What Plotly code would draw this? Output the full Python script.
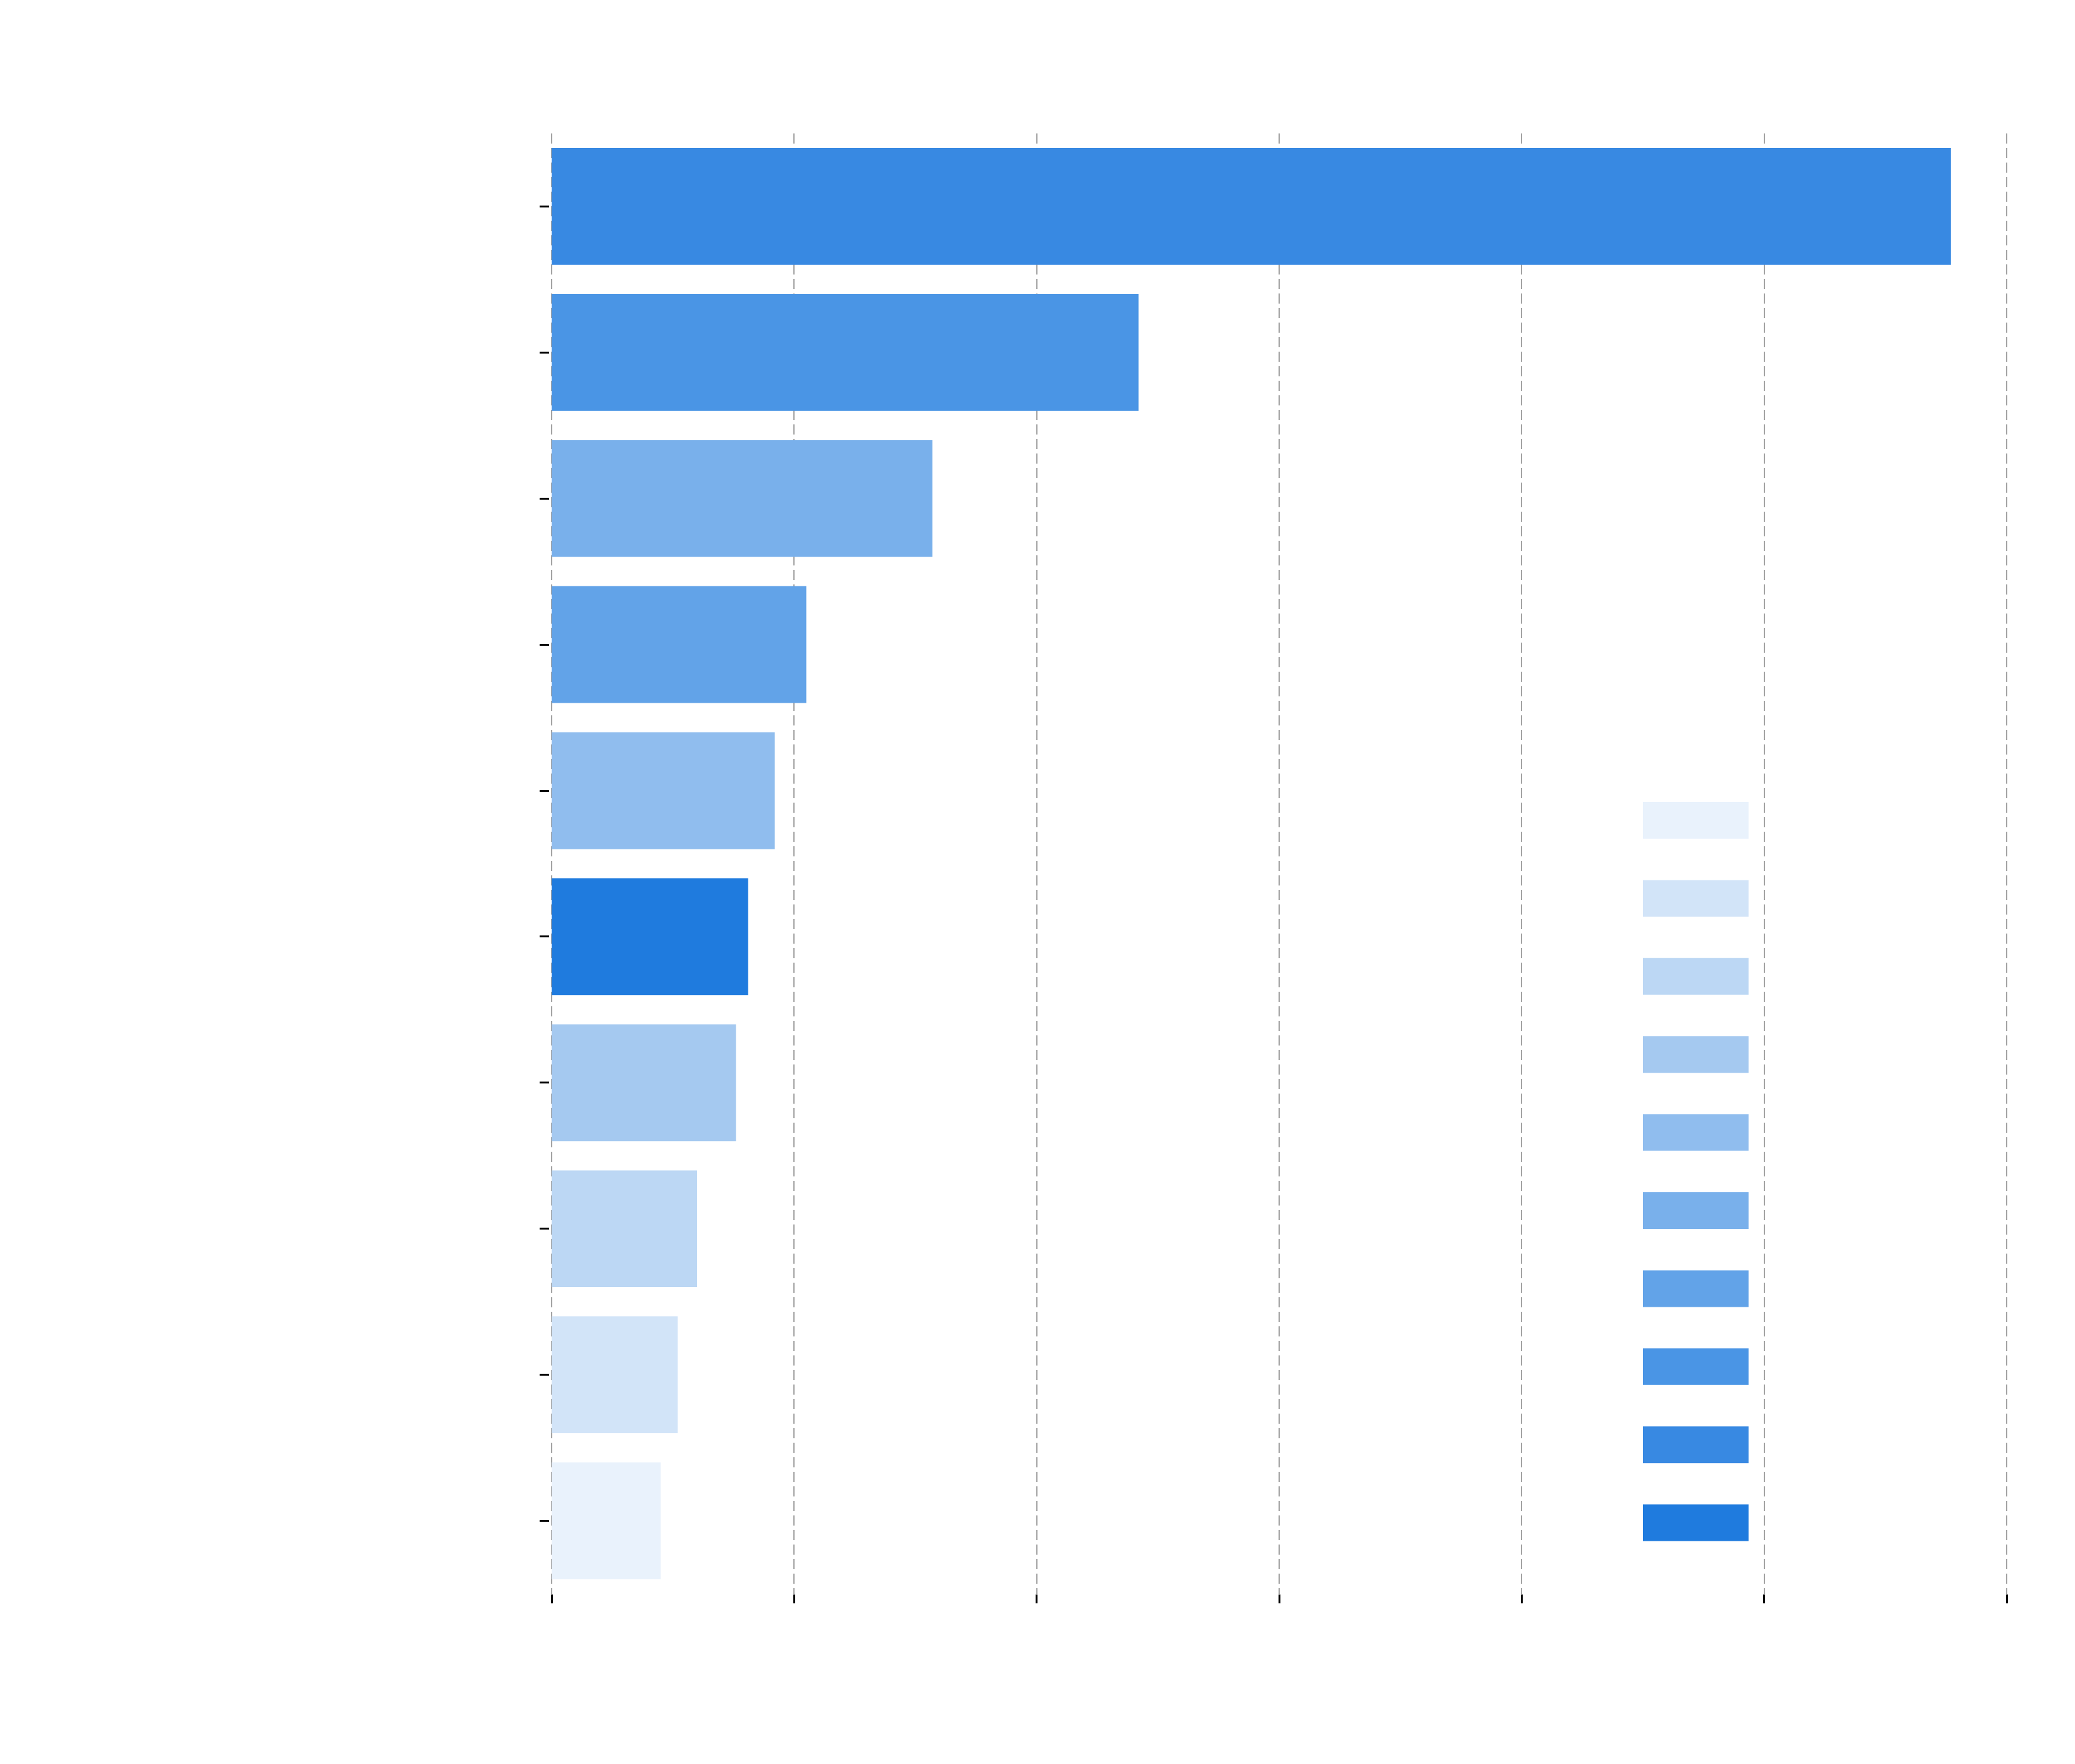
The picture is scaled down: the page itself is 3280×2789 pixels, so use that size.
import plotly.graph_objects as go

# ---------------- data ----------------
authors = ["Moca", "Base", "Mode", "GameSwift", "Elon Network",
           "Mobile Ecosystem", "Nakamigos", "Aurora", "Pike Finance", "Nexis Network"]
mints = [577, 242, 157, 105, 92, 81, 76, 60, 52, 45]
revenue = [0.1595, 0.0671, 0.0433, 0.0524, 0.0254, 0.1724, 0.02, 0.0166, 0.0144, 0.0124]
x_ticks = [0, 100, 200, 300, 400, 500, 600]

title_text = "10 Authors with the Most Minted Articles"
x_title = "Mints"
y_title = "Author"
legend_title = "Revenue (ETH)"

# palette lightest -> darkest
palette = ["#E9F2FC", "#D2E4F8", "#BCD7F4", "#A5C9F0", "#90BDEE",
           "#79B0EB", "#62A3E8", "#4A95E5", "#3889E2", "#1F7BDE"]

FONT = "DejaVu Sans"
TXT = "#ffffff"
W, H = 3280, 2789
L, R, T, B = 872, 108, 211, 269
EXT = 3  # px of range padding so edge gridlines are drawn

order = sorted(range(len(revenue)), key=lambda i: revenue[i])
rank = {i: r for r, i in enumerate(order)}

fig = go.Figure()
for i, a in enumerate(authors):
    fig.add_trace(go.Bar(
        x=[mints[i]], y=[a], orientation="h",
        marker=dict(color=palette[rank[i]], line=dict(width=0)),
        width=0.8, showlegend=False, name=str(revenue[i]),
    ))

plot_w = W - L - R
plot_h = H - T - B
unit = x_ticks[-1] / plot_w
fig.update_layout(
    width=W, height=H,
    margin=dict(l=L - EXT, r=R - EXT, t=T, b=B, pad=0),
    paper_bgcolor="white", plot_bgcolor="white",
    font=dict(family=FONT, size=80, color=TXT),
    title=dict(text=title_text, font=dict(family=FONT, size=108, color=TXT),
               xref="container", x=2045 / W, xanchor="center",
               yref="container", y=1 - 110 / H, yanchor="bottom"),
    bargap=0.2,
)

fig.update_xaxes(
    range=[-EXT * unit, x_ticks[-1] + EXT * unit], tickvals=x_ticks,
    ticktext=[str(v) for v in x_ticks],
    showgrid=True, gridcolor="#a3a3a3", gridwidth=2, griddash="16px,7px",
    zeroline=False, showline=False,
    ticks="outside", ticklen=14, tickwidth=3, tickcolor="black",
    tickfont=dict(family=FONT, size=80, color=TXT),
    ticklabelstandoff=-32,
)
fig.update_yaxes(
    categoryorder="array", categoryarray=authors, autorange="reversed",
    showgrid=False, zeroline=False, showline=False,
    ticks="outside", ticklen=15, tickwidth=3, tickcolor="black",
    tickfont=dict(family=FONT, size=80, color=TXT),
    ticklabelstandoff=-4,
)

# ---------------- axis titles, legend (shapes / annotations) ----------------
pw = plot_w + 2 * EXT
def px_x(x):
    return (x - (L - EXT)) / pw
def px_y(y):
    return 1 - (y - T) / plot_h

fig.add_annotation(xref="paper", yref="paper", x=px_x(66), y=px_y(1365),
                   xanchor="center", yanchor="middle", showarrow=False, textangle=-90,
                   text=y_title, font=dict(family=FONT, size=80, color=TXT))
fig.add_annotation(xref="paper", yref="paper", x=px_x(2050), y=px_y(2715),
                   xanchor="center", yanchor="middle", showarrow=False,
                   text=x_title, font=dict(family=FONT, size=80, color=TXT))

row0, pitch, sw_h = 1297, 123.4, 58
sw_x0, sw_x1, lab_x = 2597, 2764, 2836
for r, idx in enumerate(order):
    cy = row0 + pitch * r
    fig.add_shape(type="rect", xref="paper", yref="paper",
                  x0=px_x(sw_x0), x1=px_x(sw_x1),
                  y0=px_y(cy - sw_h / 2), y1=px_y(cy + sw_h / 2),
                  fillcolor=palette[r], line=dict(width=0), layer="above")
    fig.add_annotation(xref="paper", yref="paper", x=px_x(lab_x), y=px_y(cy),
                       xanchor="left", yanchor="middle", showarrow=False,
                       text=str(revenue[idx]),
                       font=dict(family=FONT, size=80, color=TXT))
fig.add_annotation(xref="paper", yref="paper", x=px_x(2643), y=px_y(1180),
                   xanchor="left", yanchor="middle", showarrow=False,
                   text=legend_title, font=dict(family=FONT, size=53, color=TXT))

fig.write_html("out.html", config={"displayModeBar": False},
               post_script="document.body.style.margin='0';")
